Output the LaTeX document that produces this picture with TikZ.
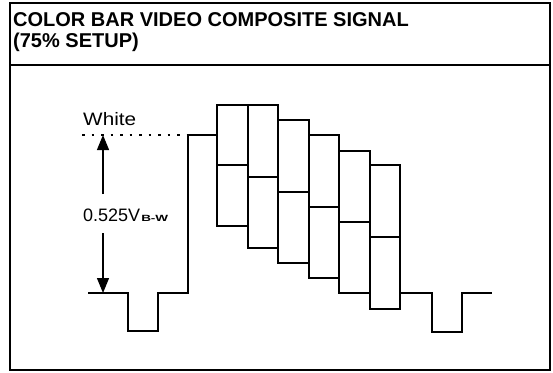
\documentclass[tikz,border=0pt]{standalone}
\usepackage{fontspec}
\setmainfont{Liberation Sans}
\usetikzlibrary{arrows.meta}
\begin{document}
\begin{tikzpicture}[x=1pt,y=-1pt,
  frame/.style={line width=2pt},
  wave/.style={line width=1.5pt, line join=miter},
  bar/.style={line width=1.5pt},
  title/.style={anchor=base west, inner sep=0pt, font=\fontsize{20}{22}\selectfont\bfseries},
  lbl/.style={anchor=base west, inner sep=0pt, font=\fontsize{18}{20}\selectfont},
  meas/.style={line width=1.2pt, -{Triangle[width=12pt,length=15pt]}},
  ref/.style={line width=1.2pt, dash pattern=on 2.5pt off 7pt}]
\useasboundingbox (0,0) rectangle (553,372);
% frame
\draw[frame] (10,3) rectangle (550,370);
\draw[frame] (10,65) -- (550,65);
% title
\node[title] (t1) at (13,26) {COLOR BAR VIDEO COMPOSITE SIGNAL};
\node[title] (t2) at (13,47) {(75\% SETUP)};
% labels
\node[lbl, xscale=1.15] (white) at (83,125) {White};
\node[lbl] (amp) at (83,221) {0.525V\kern1pt\raisebox{-0.5pt}{\scalebox{1.5}[1]{\fontsize{9}{10}\selectfont\bfseries B-W}}};
% reference dotted line
\coordinate (wl) at (82,135);
\coordinate (wr) at (187,135);
\draw[ref] (wl) -- (wr);
% measurement arrows
\coordinate (atop) at (103,135);
\coordinate (abot) at (103,293);
\draw[meas] (103,194) -- (atop);
\draw[meas] (103,233) -- (abot);
% waveform left part
\draw[wave] (88,293) -- (128,293) -- (128,331) -- (158,331) -- (158,293)
  -- (188,293) -- (188,135) -- (217,135);
% colour bars: x0, x1, top, mid, bottom
\foreach \xa/\xb/\tp/\md/\bt in {217/248/105/165/226, 248/278/105/177/248,
  278/309/120/192/263, 309/339/135/207/278, 339/370/151/222/293, 370/400/165/237/309}{
  \draw[bar] (\xa,\tp) rectangle (\xb,\bt);
  \draw[bar] (\xa,\md) -- (\xb,\md);
}
% waveform right part
\draw[wave] (400,293) -- (432,293) -- (432,332) -- (462,332) -- (462,293) -- (492,293);
\end{tikzpicture}
\end{document}
